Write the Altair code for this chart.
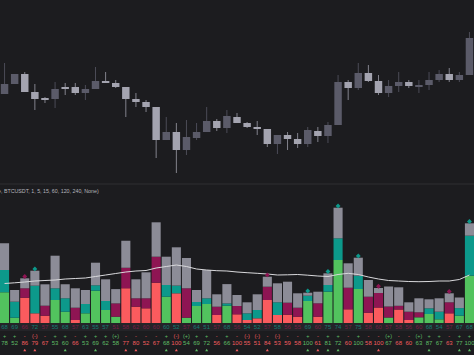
import altair as alt
import pandas as pd

N = 47
idx = list(range(N))

# ---- candles (arbitrary price units) ----
opens  = [89, 99, 109, 91, 85, 84, 96, 96, 90, 94, 102, 100, 96, 84, 81, 76, 43, 51, 33, 45, 51, 62, 55, 66,
          60, 56, 54, 39, 48, 44, 39, 52, 47, 58, 101, 95, 110, 102, 90, 97, 101, 96, 98, 103, 109, 103, 108]
closes = [99, 109, 91, 84, 83, 94, 94, 90, 94, 102, 100, 96, 84, 81, 76, 43, 51, 33, 46, 51, 62, 55, 67, 60,
          56, 54, 39, 48, 44, 39, 53, 47, 58, 101, 95, 110, 102, 90, 97, 101, 97, 98, 103, 109, 103, 108, 145]
highs  = [120, 109, 111, 99, 86, 101, 100, 100, 98, 116, 111, 103, 96, 90, 83, 76, 66, 60, 63, 60, 76, 64, 73, 70,
          61, 62, 54, 48, 51, 50, 56, 56, 61, 108, 103, 120, 118, 108, 103, 111, 103, 103, 111, 113, 115, 111, 151]
lows   = [89, 99, 91, 73, 80, 75, 88, 88, 83, 94, 100, 95, 66, 76, 71, 25, 43, 10, 28, 43, 51, 52, 50, 60,
          55, 48, 36, 29, 33, 35, 36, 41, 40, 58, 83, 93, 101, 88, 86, 91, 95, 90, 93, 101, 101, 101, 108]

# ---- stacked bars ----
bottom_h = [30.7, 5.3, 25.3, 9.7, 7.3, 23, 11.3, 3, 9.7, 32.3, 13, 6.3, 34.7, 16.3, 14.7, 40.3, 26.3, 29.7, 5.3, 17,
            19, 8, 17.3, 8.7, 3, 4.7, 23, 8, 8.3, 6.3, 22, 6.3, 31.3, 63, 13.7, 34, 10.3, 15.5, 5.5, 13.5,
            3, 5.7, 9, 3.7, 9.7, 7.3, 47.3]
bottom_c = list("GGRRRGGRGGGGRRRRGRGGGRGRRRRRRRGRGGRGRRGRRGGGRGG")
middle_h = [22.3, 16, 9.4, 27.6, 10, 11.7, 13.4, 12.3, 9.3, 5.4, 9, 13.3, 20.6, 8.4, 10, 26, 11.7, 7.7, 29.4, 4,
            5.7, 8.3, 2.3, 8.3, 6.7, 8.3, 13.3, 12.7, 12, 9, 5.3, 13.4, 6.7, 21.7, 21.6, 13.3, 16, 14.5, 11, 3.7,
            8.3, 5, 5.7, 7.6, 11, 7.6, 40]
middle_c = list("TTMTMTTMTTTMMMMMTTMTTMTMTTMTMMTMTTMTMMMMMMTTMTT")
gray_h   = [26.7, 11.7, 10, 15, 21.4, 32.6, 14, 19.4, 14, 22.6, 21.7, 14.3, 27, 19, 26, 34.4, 28.3, 38.3, 30.3, 12,
            28.3, 12.4, 19.3, 11, 11, 15.7, 10, 19, 21, 14.4, 3, 11.6, 11.7, 30.6, 24.4, 18, 16.7, 5, 20, 18.5,
            9.4, 14, 9, 13.4, 9, 10.6, 12.4]
avg_line = [39.5, 40.2, 41, 42, 42.5, 43, 44, 44.5, 45, 46.5, 48, 49.5, 51, 52, 52.5, 55, 56.5, 58, 56.5, 54,
            53, 52.3, 52, 51, 50.3, 49.7, 49, 48, 48.2, 48.5, 47.8, 47, 46.5, 48.5, 49.7, 48.5, 46, 44, 42.5, 42,
            41.5, 41.3, 41.5, 42, 42, 43.5, 48]
diamond_bars = [2, 3, 26, 30, 32, 33, 35, 37, 44, 46]

# ---- text rows ----
row1 = [68, 69, 66, 72, 57, 55, 68, 57, 63, 55, 57, 51, 58, 62, 60, 60, 60, 52, 57, 64, 51, 57, 68, 56,
        54, 52, 57, 58, 56, 55, 69, 60, 75, 74, 57, 75, 58, 60, 57, 58, 56, 60, 68, 54, 57, 67, 68]
row2 = ["+", "+", "-", "(-)", "-", "+", "+", "-", "+", "+", "+", "(+)", "-", "-", "-", "-", "+", "(-)", "(+)", "+",
        "+", "-", "+", "-", "(-)", "(-)", "-", "(-)", "-", "-", "+", "-", "+", "+", "-", "+", "-", "-", "(+)", "-",
        "-", "(+)", "+", "+", "-", "+", "+"]
row3 = [78, 52, 86, 79, 67, 53, 60, 66, 53, 69, 62, 58, 77, 80, 52, 67, 68, 100, 54, 69, 72, 56, 66, 100,
        55, 51, 84, 53, 59, 58, 100, 61, 81, 72, 60, 100, 58, 100, 67, 68, 60, 63, 87, 67, 63, 77, 100]
triangle_bars = [2, 3, 6, 9, 12, 13, 16, 17, 19, 20, 23, 26, 30, 31, 32, 33, 37, 42, 45, 46]
label = "e, BTCUSDT, 1, 5, 15, 60, 120, 240, None)"

BG = "#1c1c1f"
SEG = {"G": "#52c35e", "R": "#fb5b5e", "T": "#0c998b", "M": "#8e1553", "gray": "#8c8c97"}
TXT1 = {"T": "#137d73", "M": "#7a1d46"}
TXT2 = {"G": "#5fbd66", "R": "#f25c5f"}
CANDLE_UP, CANDLE_DN = "#5b5b69", "#a4a4b0"

xs = alt.X("i:O", axis=None, scale=alt.Scale(domain=idx, paddingInner=0.1, paddingOuter=0))
y_price = alt.Scale(domain=[0, 183], range=[183, 0], nice=False, zero=False)
y_vol = alt.Scale(domain=[0, 140], range=[323, 183], nice=False, zero=False)

candles = pd.DataFrame({
    "i": idx, "open": opens, "close": closes, "high": highs, "low": lows,
    "col": [CANDLE_UP if c >= o else CANDLE_DN for o, c in zip(opens, closes)],
})

seg_rows = []
for i in idx:
    seg_rows.append({"i": i, "seg": 0, "v": bottom_h[i], "col": SEG[bottom_c[i]]})
    seg_rows.append({"i": i, "seg": 1, "v": middle_h[i], "col": SEG[middle_c[i]]})
    seg_rows.append({"i": i, "seg": 2, "v": gray_h[i], "col": SEG["gray"]})
segs = pd.DataFrame(seg_rows)

line_df = pd.DataFrame({"i": idx, "v": avg_line})
dia_df = pd.DataFrame({
    "i": diamond_bars,
    "v": [bottom_h[i] + middle_h[i] + gray_h[i] + 1.8 for i in diamond_bars],
    "col": [SEG[middle_c[i]] for i in diamond_bars],
})
txt_df = pd.DataFrame({
    "i": idx,
    "r1": [str(v) for v in row1],
    "c1": [TXT1[c] for c in middle_c],
    "r2": row2,
    "r3": [str(v) for v in row3],
    "c2": [TXT2[c] for c in bottom_c],
})
tri_df = pd.DataFrame({"i": triangle_bars, "col": [TXT2[bottom_c[i]] for i in triangle_bars]})
one = pd.DataFrame({"t": [label]})

wicks = alt.Chart(candles).mark_rule(strokeWidth=1, opacity=0.75).encode(
    x=xs, y=alt.Y("low:Q", scale=y_price, axis=None), y2="high:Q",
    color=alt.Color("col:N", scale=None))
bodies = alt.Chart(candles).mark_bar(width=alt.RelativeBandSize(0.82)).encode(
    x=xs, y=alt.Y("open:Q", scale=y_price, axis=None), y2="close:Q",
    color=alt.Color("col:N", scale=None))

sep = alt.Chart(one).mark_rule(color="#2e2e33", strokeWidth=1).encode(
    x=alt.value(0), x2=alt.value(474), y=alt.value(184))
strip = alt.Chart(one).mark_rect(color="#242428").encode(
    x=alt.value(0), x2=alt.value(474), y=alt.value(323), y2=alt.value(331))
title = alt.Chart(one).mark_text(align="left", baseline="middle", fontSize=5.3, color="#b4b4bc",
                                  font="Liberation Sans").encode(
    x=alt.value(-2), y=alt.value(190.5), text="t:N")

bars = alt.Chart(segs).mark_bar().encode(
    x=xs, y=alt.Y("v:Q", stack="zero", scale=y_vol, axis=None),
    order=alt.Order("seg:Q", sort="ascending"),
    color=alt.Color("col:N", scale=None))
line = alt.Chart(line_df).mark_line(color="#d9d9dc", strokeWidth=1).encode(
    x=xs, y=alt.Y("v:Q", scale=y_vol, axis=None))
dias = alt.Chart(dia_df).mark_point(shape="diamond", filled=True, size=24, opacity=1).encode(
    x=xs, y=alt.Y("v:Q", scale=y_vol, axis=None), color=alt.Color("col:N", scale=None))

t1 = alt.Chart(txt_df).mark_text(fontSize=6, font="Liberation Sans", baseline="middle").encode(
    x=xs, y=alt.value(327), text="r1:N", color=alt.Color("c1:N", scale=None))
t2 = alt.Chart(txt_df).mark_text(fontSize=5.5, font="Liberation Sans", baseline="middle").encode(
    x=xs, y=alt.value(336), text="r2:N", color=alt.Color("c2:N", scale=None))
t3 = alt.Chart(txt_df).mark_text(fontSize=6, font="Liberation Sans", baseline="middle").encode(
    x=xs, y=alt.value(343), text="r3:N", color=alt.Color("c2:N", scale=None))
tris = alt.Chart(tri_df).mark_point(shape="triangle-up", filled=True, size=9, opacity=1).encode(
    x=xs, y=alt.value(350), color=alt.Color("col:N", scale=None))

chart = alt.layer(
    strip, sep, wicks, bodies, title, bars, line, dias, t1, t2, t3, tris
).resolve_scale(y="independent").properties(
    width=474, height=355, padding=0, autosize=alt.AutoSizeParams(type="none"),
    background=BG,
).configure_view(stroke=None)

chart.save("out.html", embed_options={"renderer": "svg", "actions": False})
